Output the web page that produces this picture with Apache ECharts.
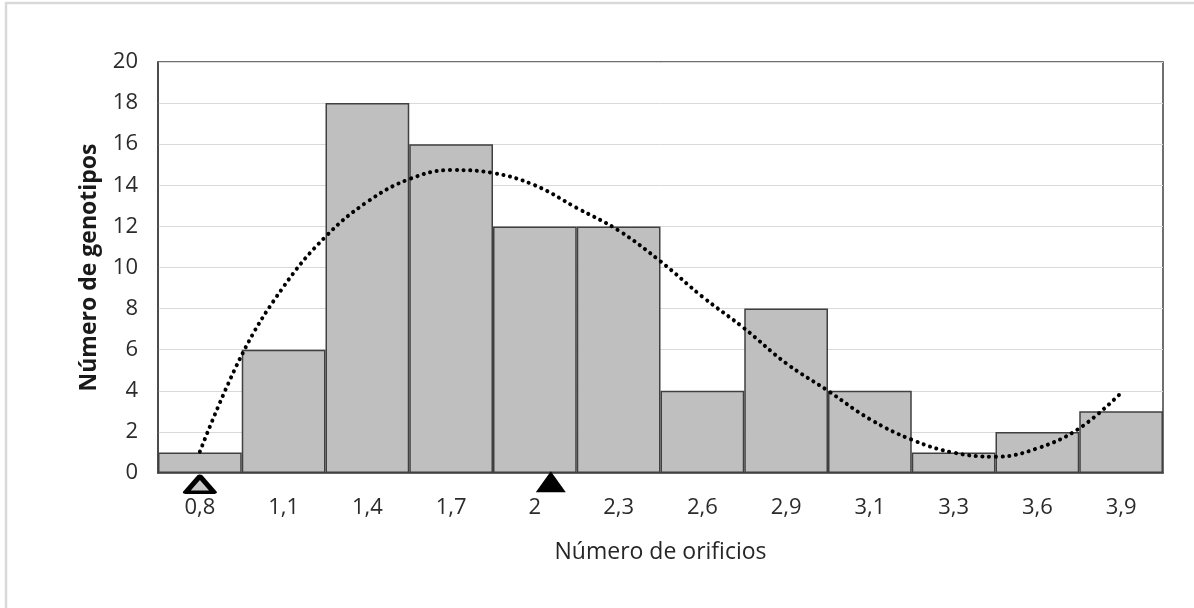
<!DOCTYPE html>
<html>
<head>
<meta charset="utf-8">
<script src="https://cdn.jsdelivr.net/npm/echarts@6/dist/echarts.min.js"></script>
<style>
html,body{margin:0;padding:0;background:#fff;}
#chart{width:1194px;height:608px;}
</style>
</head>
<body>
<div id="chart"></div>
<script>
// Categories (bin labels) and counts
var categories = ['0,8','1,1','1,4','1,7','2','2,3','2,6','2,9','3,1','3,3','3,6','3,9'];
var counts = [1, 6, 18, 16, 12, 12, 4, 8, 4, 1, 2, 3];
var yTicks = [0, 20, 2];  // min, max, interval

// Trend line, position in bin units (bin i spans i..i+1)
var trendPos = [0.5, 1.0, 1.5, 2.0, 2.5, 3.0, 3.5, 4.0, 4.5, 5.0, 5.5, 6.0, 6.5, 7.0, 7.5, 8.0, 8.5, 9.0, 9.5, 10.0, 10.5, 11.0, 11.5];
var trendVal = [1.04, 5.74, 9.07, 11.5, 13.2, 14.3, 14.74, 14.6, 14.0, 12.9, 11.8, 10.3, 8.58, 7.04, 5.34, 4.0, 2.62, 1.62, 0.99, 0.79, 1.2, 2.17, 3.9];

// Triangle markers below the axis (bin-unit position, value)
var hollowMarker = [[0.5, -0.55]];
var filledMarker = [[4.69, -0.42]];

var trendData = trendPos.map(function (p, i) { return [p, trendVal[i]]; });

var chart = echarts.init(document.getElementById('chart'), null, {renderer: 'canvas'});
var font = '"Open Sans", sans-serif';

chart.setOption({
  animation: false,
  backgroundColor: '#ffffff',
  graphic: [{
    type: 'rect',
    shape: {x: 6, y: 3, width: 1300, height: 800},
    style: {fill: 'none', stroke: '#d9d9d9', lineWidth: 2.5},
    silent: true,
    z: -10
  }],
  grid: {
    left: 158, right: 31, top: 62, bottom: 135,
    show: true, borderColor: '#404040', borderWidth: 1.5, backgroundColor: 'transparent'
  },
  xAxis: [{
    type: 'category',
    data: categories,
    boundaryGap: true,
    axisLine: {show: true, lineStyle: {color: '#404040', width: 1.5}},
    axisTick: {show: false},
    axisLabel: {color: '#2b2b2b', fontSize: 22, fontFamily: font, margin: 24, interval: 0},
    name: 'Número de orificios',
    nameLocation: 'middle',
    nameGap: 68,
    nameTextStyle: {color: '#262626', fontSize: 23, fontFamily: font}
  }, {
    type: 'value',
    min: 0, max: categories.length,
    show: false
  }],
  yAxis: [{
    type: 'value',
    min: yTicks[0], max: yTicks[1], interval: yTicks[2],
    axisLine: {show: true, lineStyle: {color: '#404040', width: 1.5}},
    axisTick: {show: false},
    splitLine: {show: true, lineStyle: {color: '#d9d9d9', width: 1}},
    axisLabel: {color: '#2b2b2b', fontSize: 22, fontFamily: font, margin: 20},
    name: 'Número de genotipos',
    nameLocation: 'middle',
    nameGap: 57,
    nameTextStyle: {color: '#1a1a1a', fontSize: 23, fontWeight: 'bold', fontFamily: font}
  }],
  series: [{
    type: 'bar',
    data: counts,
    xAxisIndex: 0,
    barCategoryGap: '0%',
    itemStyle: {color: '#bfbfbf', borderColor: '#404040', borderWidth: 1.5},
    z: 2
  }, {
    type: 'line',
    data: trendData,
    xAxisIndex: 1,
    smooth: 0.4,
    symbol: 'none',
    lineStyle: {color: '#000000', width: 4, type: [0.1, 6.6], cap: 'round'},
    z: 5
  }, {
    type: 'scatter',
    data: hollowMarker,
    xAxisIndex: 1,
    symbol: 'triangle',
    symbolSize: [28, 16],
    clip: false,
    itemStyle: {color: '#c8c8c8', borderColor: '#000000', borderWidth: 4.5, borderJoin: 'round', opacity: 1},
    z: 6
  }, {
    type: 'scatter',
    data: filledMarker,
    xAxisIndex: 1,
    symbol: 'triangle',
    symbolSize: [30, 21],
    clip: false,
    itemStyle: {color: '#000000', opacity: 1},
    z: 6
  }]
});
</script>
</body>
</html>
